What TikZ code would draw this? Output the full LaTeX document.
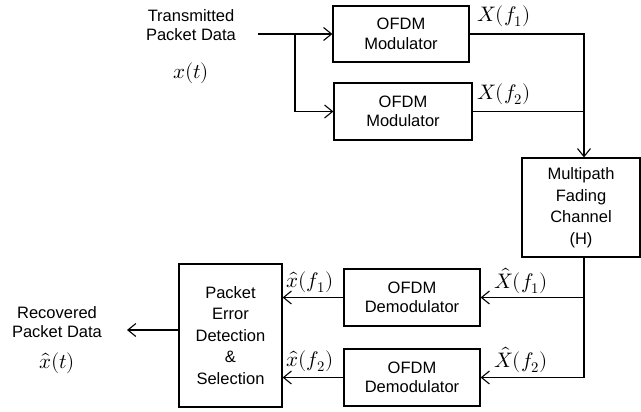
\documentclass[tikz,border=0pt]{standalone}
\usepackage{fontspec}
\usepackage{unicode-math}
\setmainfont{Liberation Sans}
\setmathfont{Latin Modern Math}
\usetikzlibrary{arrows.meta}
\begin{document}
\begin{tikzpicture}[x=1pt,y=-1pt,
  every node/.style={font=\fontsize{16.5}{19.5}\selectfont},
  tall/.style={font=\fontsize{16.5}{21.5}\selectfont},
  blk/.style={draw,line width=1.2pt,align=center,inner sep=0pt},
  lbl/.style={align=center,inner sep=0pt},
  mth/.style={inner sep=0pt,font=\fontsize{21}{23}\selectfont},
  wire/.style={line width=1.2pt},
  arr/.style={wire,-{Straight Barb[length=8pt,width=13pt,line width=1.1pt]}}]
\useasboundingbox (0,0) rectangle (641,412);
% boxes
\node[blk,minimum width=136pt,minimum height=56pt] (m1) at (401,34) {OFDM\\Modulator};
\node[blk,minimum width=138pt,minimum height=57pt] (m2) at (403,111.5) {OFDM\\Modulator};
\node[blk,tall,minimum width=118pt,minimum height=99pt] (ch) at (581,207.5) {Multipath\\Fading\\Channel\\(H)};
\node[blk,minimum width=136pt,minimum height=57pt] (d1) at (412,297.5) {OFDM\\Demodulator};
\node[blk,minimum width=136pt,minimum height=57pt] (d2) at (412,377.5) {OFDM\\Demodulator};
\node[blk,tall,minimum width=103pt,minimum height=143pt] (ped) at (230.5,335.5) {Packet\\Error\\Detection\\\&\\Selection};
% text labels
\node[lbl] (tx) at (191,25) {Transmitted\\Packet Data};
\node[mth] (xt) at (191,73) {$x(t)$};
\node[lbl] (rx) at (57,322) {Recovered\\Packet Data};
\node[mth] (xht) at (57,363) {$\hat{x}(t)$};
% coordinates
\coordinate (src) at (258,34);
\coordinate (br) at (295,34);
\coordinate (br2) at (295,111.5);
\coordinate (j1) at (584,34);
\coordinate (j2) at (584,111.5);
\coordinate (c1) at (584,297.5);
\coordinate (c2) at (584,377.5);
\coordinate (out) at (127,330);
% connectors
\draw[arr] (src) -- (m1.west);
\draw[arr] (br) -- (br2) -- (m2.west);
\draw[wire] (m1.east) -- (j1) -- (j2);
\draw[wire] (m2.east) -- (j2);
\draw[arr] (j2) -- (j2 |- ch.north);
\draw[wire] (c1 |- ch.south) -- (c2);
\draw[arr] (c1) -- (d1.east);
\draw[arr] (c2) -- (d2.east);
\draw[arr] (d1.west) -- (ped.east |- d1.west);
\draw[arr] (d2.west) -- (ped.east |- d2.west);
\draw[arr] (ped.west |- out) -- (out);
% signal labels
\node[mth] (lx1) at (504,16) {$X(f_1)$};
\node[mth] (lx2) at (504,94) {$X(f_2)$};
\node[mth] (lxh1) at (521,281) {$\hat{X}(f_1)$};
\node[mth] (lxh2) at (521,360) {$\hat{X}(f_2)$};
\node[mth] (lyh1) at (310,282) {$\hat{x}(f_1)$};
\node[mth] (lyh2) at (310,361) {$\hat{x}(f_2)$};
\end{tikzpicture}
\end{document}
